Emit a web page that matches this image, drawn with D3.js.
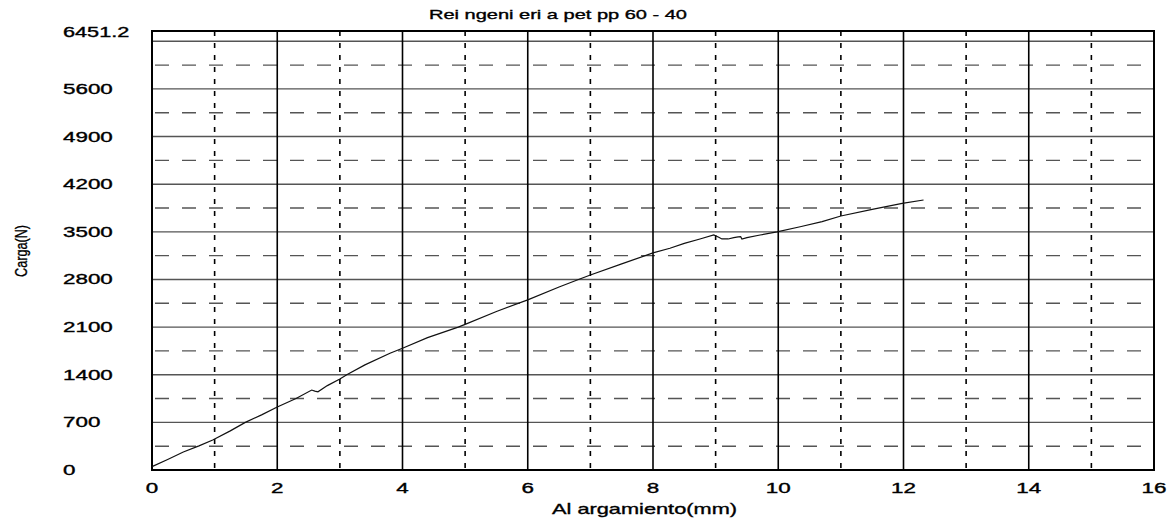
<!DOCTYPE html>
<html>
<head>
<meta charset="utf-8">
<script src="https://cdn.jsdelivr.net/npm/d3@7"></script>
<style>
    body { margin: 0; background: #fff; }
    svg { display: block; font-family: "Liberation Sans", Arial, sans-serif; }
    text { fill: #000; stroke: #000; stroke-width: 0.35px; }
</style>
</head>
<body>
<svg></svg>
<script>
// elongation (mm) and load (N)
let alargamiento = [0, 0.25, 0.5, 0.75, 0.97, 1.25, 1.49, 1.75, 2.0, 2.3, 2.55, 2.6, 2.65, 2.8, 3.0, 3.11, 3.4, 3.8, 4.0, 4.4,
    4.89, 5.0, 5.5, 6.0, 6.5, 6.81, 7.0, 7.5, 8.0, 8.27, 8.5, 8.75, 8.97, 9.05, 9.1, 9.2, 9.29, 9.36, 9.4, 9.42,
    9.5, 9.71, 9.98, 10.35, 10.7, 11.0, 11.5, 11.98, 12.32];
let carga = [50, 155, 265, 355, 440, 575, 700, 810, 926, 1050, 1175, 1160, 1150, 1240, 1337, 1400, 1545, 1715, 1790, 1945,
    2100, 2140, 2330, 2500, 2690, 2800, 2866, 3030, 3190, 3258, 3330, 3395, 3455, 3420, 3395, 3395, 3414, 3425, 3428, 3395,
    3415, 3453, 3500, 3575, 3650, 3733, 3830, 3919, 3968];

let xTicks = [0, 2, 4, 6, 8, 10, 12, 14, 16];
let xMinor = [1, 3, 5, 7, 9, 11, 13, 15];
let yTicks = [0, 700, 1400, 2100, 2800, 3500, 4200, 4900, 5600];
let yGrid = [700, 1400, 2100, 2800, 3500, 4200, 4900, 5600, 6300];
let yMinor = [350, 1050, 1750, 2450, 3150, 3850, 4550, 5250, 5950];
let yMax = 6451.2;

let titulo = "Rei ngeni eri a pet pp 60 -  40";
let xLabel = "Al argamiento(mm)";
let yLabel = "Carga(N)";

let width = 1171;
let height = 520;
let plotLeft = 152, plotRight = 1154, plotTop = 31, plotBottom = 470;

let xScale = d3.scaleLinear()
                .domain([0, 16])
                .range([plotLeft, plotRight]);
let yScale = d3.scaleLinear()
                .domain([0, yMax])
                .range([plotBottom, plotTop]);

let svg = d3.select("svg")
    .attr("width", width)
    .attr("height", height);

// horizontal grid
svg.append("g")
    .selectAll("line")
    .data(yMinor)
    .enter()
    .append("line")
    .attr("x1", plotLeft)
    .attr("x2", plotRight)
    .attr("y1", d => yScale(d))
    .attr("y2", d => yScale(d))
    .attr("stroke", "#555")
    .attr("stroke-width", 1.4)
    .attr("stroke-dasharray", "14,13")
    .attr("stroke-dashoffset", -3);

svg.append("g")
    .selectAll("line")
    .data(yGrid)
    .enter()
    .append("line")
    .attr("x1", plotLeft)
    .attr("x2", plotRight)
    .attr("y1", d => yScale(d))
    .attr("y2", d => yScale(d))
    .attr("stroke", "#555")
    .attr("stroke-width", 1.4);

// vertical grid
svg.append("g")
    .selectAll("line")
    .data(xMinor)
    .enter()
    .append("line")
    .attr("x1", d => xScale(d))
    .attr("x2", d => xScale(d))
    .attr("y1", plotTop)
    .attr("y2", plotBottom)
    .attr("stroke", "#000")
    .attr("stroke-width", 1.6)
    .attr("stroke-dasharray", "5,7");

svg.append("g")
    .selectAll("line")
    .data(xTicks.slice(1, -1))
    .enter()
    .append("line")
    .attr("x1", d => xScale(d))
    .attr("x2", d => xScale(d))
    .attr("y1", plotTop)
    .attr("y2", plotBottom)
    .attr("stroke", "#000")
    .attr("stroke-width", 1.6);

// frame
svg.append("rect")
    .attr("x", plotLeft)
    .attr("y", plotTop)
    .attr("width", plotRight - plotLeft)
    .attr("height", plotBottom - plotTop)
    .attr("fill", "none")
    .attr("stroke", "#000")
    .attr("stroke-width", 2);

// curve
let line = d3.line()
    .x((d, i) => xScale(alargamiento[i]))
    .y(d => yScale(d));

svg.append("path")
    .datum(carga)
    .attr("d", line)
    .attr("fill", "none")
    .attr("stroke", "#111")
    .attr("stroke-width", 1.2);

// tick labels, stretched like the original
svg.append("g")
    .selectAll("text")
    .data(xTicks)
    .enter()
    .append("text")
    .attr("transform", d => "translate(" + xScale(d) + ",493) scale(1.6,1)")
    .style("text-anchor", "middle")
    .style("font-size", "14px")
    .text(d => d);

svg.append("g")
    .selectAll("text")
    .data(yTicks)
    .enter()
    .append("text")
    .attr("transform", d => "translate(63," + (yScale(d) + 5) + ") scale(1.6,1)")
    .style("font-size", "14px")
    .text(d => d);

svg.append("text")
    .attr("transform", "translate(63," + (yScale(yMax) + 6) + ") scale(1.55,1)")
    .style("font-size", "14px")
    .text(yMax);

svg.append("text")
    .attr("x", 429)
    .attr("y", 19)
    .attr("textLength", 258)
    .attr("lengthAdjust", "spacingAndGlyphs")
    .style("font-size", "13px")
    .text(titulo);

svg.append("text")
    .attr("x", 552)
    .attr("y", 514)
    .attr("textLength", 185)
    .attr("lengthAdjust", "spacingAndGlyphs")
    .style("font-size", "15px")
    .text(xLabel);

svg.append("text")
    .attr("transform", "rotate(-90)")
    .attr("x", -277)
    .attr("y", 27)
    .attr("textLength", 52)
    .attr("lengthAdjust", "spacingAndGlyphs")
    .style("font-size", "16px")
    .text(yLabel);
</script>
</body>
</html>
